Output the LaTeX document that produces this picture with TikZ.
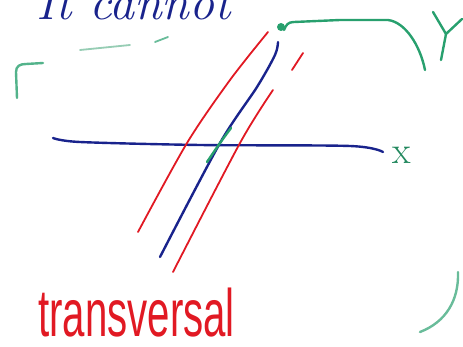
\documentclass[tikz,border=0pt]{standalone}
\usepackage{fontspec}
\newfontfamily\handsans[FakeStretch=0.6]{Liberation Sans}
\definecolor{inkblue}{RGB}{25,35,140}
\definecolor{inkred}{RGB}{225,25,35}
\definecolor{inkgreen}{RGB}{40,160,110}
\definecolor{fadegreen}{RGB}{150,205,180}
\tikzset{
  pen/.style={line width=2.4pt, line cap=round, line join=round},
  thinpen/.style={line width=1.8pt, line cap=round, line join=round},
}
\begin{document}
\begin{tikzpicture}[x=1pt,y=-1pt]
\useasboundingbox (0,0) rectangle (463,347);
% top text
\node[anchor=base west, inner sep=0, text=inkblue, font=\fontsize{50}{60}\selectfont\itshape] (title) at (36,20) {It\hspace{18pt}cannot};
% green frame pieces
\draw[thinpen, fadegreen] (80,50) -- (130,45);
\draw[thinpen, inkgreen!70] (155,42) -- (168,37);
\draw[pen, inkgreen!80] (17,98) -- (16,72) .. controls (16,66) and (20,64) .. (26,64) -- (43,63);
\draw[pen, inkgreen] (284,30) .. controls (286,25) and (288,22) .. (294,22) -- (340,20) -- (388,20) .. controls (405,22) and (420,45) .. (425,70);
\fill[inkgreen] (281,27) circle (4);
\draw[pen, inkgreen] (433,12) -- (446,34) -- (462,19);
\draw[pen, inkgreen] (446,34) -- (441,60);
\draw[pen, inkgreen!70] (458,272) .. controls (459,300) and (446,322) .. (420,332);
% x axis
\draw[pen, inkblue] plot[smooth] coordinates {(53,138) (80,142) (200,145) (350,146) (383,152)};
\node[text=inkgreen!85!black, font=\fontsize{38}{40}\selectfont] (xlab) at (402,155) {x};
% transversals
\draw[thinpen, inkred] plot[smooth] coordinates {(138,232) (187,143) (230,80) (268,32)};
\draw[pen, inkblue] plot[smooth] coordinates {(160,257) (220,143) (257,87) (275,55) (278,42)};
\draw[pen, inkgreen] plot[smooth] coordinates {(207,162) (220,143) (231,128)};
\draw[thinpen, inkred] plot[smooth] coordinates {(173,272) (240,143) (273,90)};
\draw[thinpen, inkred] (292,70) -- (303,53);
% bottom label
\node[anchor=base west, inner sep=0, text=inkred, font=\handsans\fontsize{67}{70}\selectfont] (label) at (38,336) {transversal};
\end{tikzpicture}
\end{document}
